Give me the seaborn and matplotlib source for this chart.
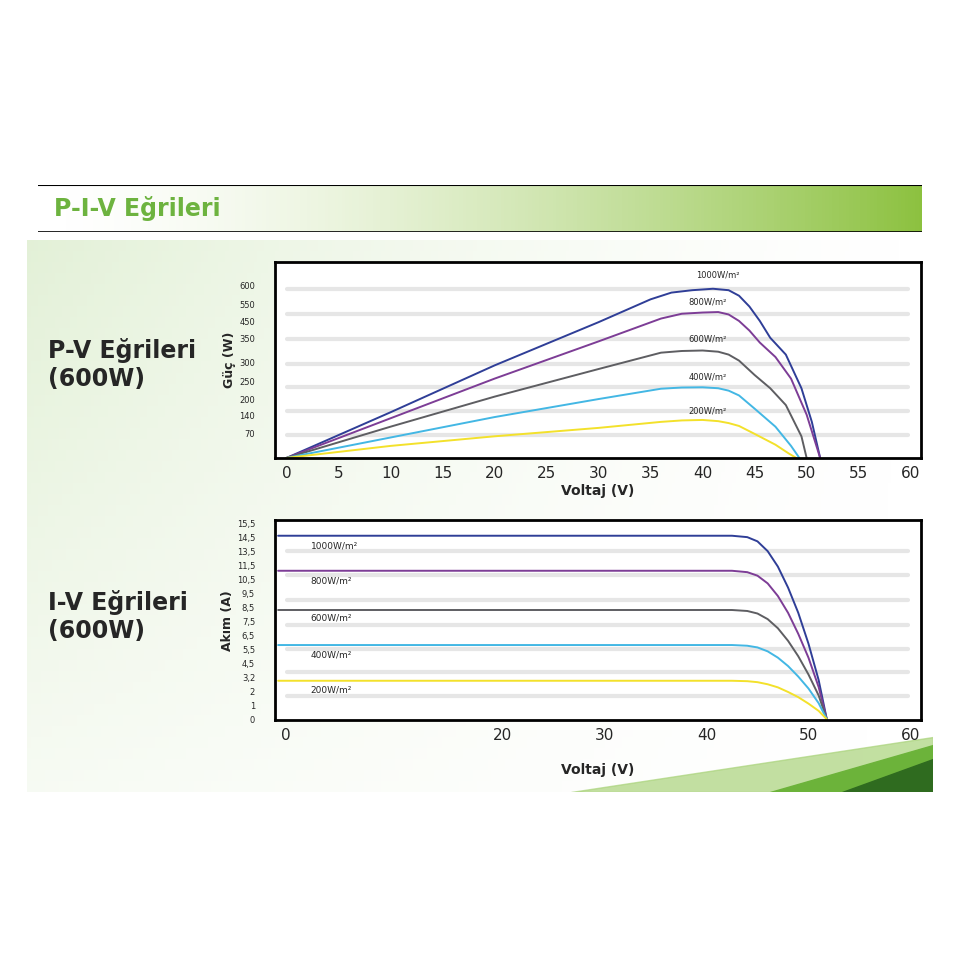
import numpy as np
import pandas as pd
import matplotlib.pyplot as plt
import seaborn as sns
from matplotlib.patches import Polygon

sns.set_style("white")
plt.rcParams["font.family"] = ["DejaVu Sans"]

irradiance = ["1000W/m²", "800W/m²", "600W/m²", "400W/m²", "200W/m²"]
colors = ["#2f3e97", "#7d3d96", "#5e5e62", "#43b7e4", "#f3e12b"]

# P-V curves: voltage (V), power in grid units (evenly spaced tick rows)
pv_v = {
    "1000W/m²": [0, 10, 20, 30, 35, 37, 39, 41, 42.5, 43.5, 44.5, 45.5, 46.5, 48, 49.5, 50.5, 51.3],
    "800W/m²": [0, 10, 20, 30, 36, 38, 40, 41.5, 42.5, 43.5, 44.5, 45.5, 47, 48.5, 50, 51.3],
    "600W/m²": [0, 10, 20, 30, 36, 38, 40, 41.5, 42.5, 43.5, 45, 46.5, 48, 49.5, 50],
    "400W/m²": [0, 10, 20, 30, 36, 38, 40, 41.5, 42.5, 43.5, 45, 47, 48.5, 49.3],
    "200W/m²": [0, 10, 20, 30, 36, 38, 40, 41.5, 42.5, 43.5, 45, 47, 48.3, 49],
}
pv_p = {
    "1000W/m²": [0, 1.9, 3.85, 5.65, 6.6, 6.88, 6.98, 7.04, 6.98, 6.75, 6.3, 5.7, 5.0, 4.3, 2.9, 1.5, 0],
    "800W/m²": [0, 1.65, 3.3, 4.85, 5.8, 6.0, 6.05, 6.07, 5.97, 5.7, 5.3, 4.8, 4.2, 3.3, 1.8, 0],
    "600W/m²": [0, 1.3, 2.55, 3.7, 4.38, 4.45, 4.47, 4.42, 4.3, 4.05, 3.45, 2.9, 2.2, 0.9, 0],
    "400W/m²": [0, 0.85, 1.7, 2.45, 2.88, 2.93, 2.94, 2.9, 2.8, 2.6, 2.05, 1.3, 0.5, 0],
    "200W/m²": [0, 0.5, 0.9, 1.25, 1.5, 1.56, 1.58, 1.53, 1.45, 1.33, 1.0, 0.55, 0.18, 0],
}
pv_ticks = ["70", "140", "200", "250", "300", "350", "450", "550", "600"]
pv_tick_pos = [1.0, 1.76, 2.43, 3.18, 3.96, 4.96, 5.68, 6.4, 7.18]
pv_grid = [0.97, 1.97, 2.96, 3.92, 4.96, 6.0, 7.04]

# I-V curves: voltage (V), current in grid units
iv_v = [-2.0, 42.5, 44, 45, 46, 47, 48, 49, 50, 51, 51.8]
iv_i = {
    "1000W/m²": [13.1, 13.1, 13.0, 12.7, 12.0, 10.9, 9.4, 7.6, 5.4, 2.8, 0],
    "800W/m²": [10.6, 10.6, 10.5, 10.25, 9.7, 8.8, 7.6, 6.1, 4.4, 2.3, 0],
    "600W/m²": [7.8, 7.8, 7.73, 7.55, 7.15, 6.5, 5.6, 4.5, 3.2, 1.7, 0],
    "400W/m²": [5.3, 5.3, 5.25, 5.13, 4.85, 4.4, 3.8, 3.05, 2.2, 1.15, 0],
    "200W/m²": [2.75, 2.75, 2.72, 2.65, 2.5, 2.28, 1.95, 1.58, 1.12, 0.6, 0],
}
iv_ticks = ["0", "1", "2", "3,2", "4,5", "5,5", "6,5", "7,5", "8,5", "9,5",
            "10,5", "11,5", "13,5", "14,5", "15,5"]
iv_grid = [1.67, 3.35, 5.0, 6.7, 8.5, 10.3, 12.0]
iv_xticks = ["0", "20", "30", "40", "50", "60"]
iv_xtick_pos = [-1.2, 20, 30, 40, 50, 60]

fig = plt.figure(figsize=(9.6, 9.6), dpi=100)
fig.patch.set_facecolor("white")

# background panel with soft green
bg = fig.add_axes([0.028, 0.175, 0.944, 0.575])
grad = np.linspace(0, 1, 256)
img = np.zeros((50, 256, 4))
img[..., 0] = 0.80
img[..., 1] = 0.90
img[..., 2] = 0.72
img[..., 3] = (0.55 * (1 - grad) ** 1.5)[None, :] * np.linspace(0.3, 1, 50)[:, None]
bg.imshow(img, aspect="auto", extent=[0, 1, 0, 1], origin="lower")
bg.add_patch(Polygon([[0.6, 0], [1, 0], [1, 0.1]], color="#a9d37a", alpha=0.7))
bg.add_patch(Polygon([[0.82, 0], [1, 0], [1, 0.085]], color="#6cb33a"))
bg.add_patch(Polygon([[0.9, 0], [1, 0], [1, 0.06]], color="#2f6b1f"))
bg.set_xlim(0, 1); bg.set_ylim(0, 1); bg.axis("off")

# title bar
tb = fig.add_axes([0.04, 0.758, 0.92, 0.049])
tg = np.zeros((2, 256, 4))
tg[..., 0] = 0.55; tg[..., 1] = 0.76; tg[..., 2] = 0.25
tg[..., 3] = grad ** 1.6
tb.imshow(tg, aspect="auto", extent=[0, 1, 0, 1])
tb.axhline(1, color="black", lw=1.5); tb.axhline(0, color="black", lw=1.2)
tb.set_xlim(0, 1); tb.set_ylim(0, 1); tb.axis("off")
tb.text(0.018, 0.5, "P-I-V Eğrileri", color="#6db33f", fontsize=17, fontweight="bold", va="center")

fig.text(0.05, 0.62, "P-V Eğrileri\n(600W)", fontsize=17, fontweight="bold", va="center", linespacing=1.2)
fig.text(0.05, 0.358, "I-V Eğrileri\n(600W)", fontsize=17, fontweight="bold", va="center", linespacing=1.2)

# P-V
ax1 = fig.add_axes([0.286, 0.523, 0.673, 0.204])
for y in pv_grid:
    ax1.axhline(y, xmin=0.02, xmax=0.98, color="#e6e6e6", lw=3, zorder=0)
pv_df = pd.concat([pd.DataFrame({"V": pv_v[k], "P": pv_p[k], "G": k}) for k in irradiance])
sns.lineplot(data=pv_df, x="V", y="P", hue="G", palette=colors, hue_order=irradiance,
             sort=False, estimator=None, lw=1.4, legend=False, ax=ax1)
for k, px, py in zip(irradiance, [41.5, 40.5, 40.5, 40.5, 40.5], [7.6, 6.5, 4.95, 3.35, 1.95]):
    ax1.text(px, py, k, fontsize=6, ha="center", va="center")
ax1.set_xlim(-1.15, 60.96); ax1.set_ylim(0, 8.15)
ax1.set_xticks(range(0, 61, 5))
ax1.set_yticks(pv_tick_pos, pv_ticks)
ax1.tick_params(axis="x", labelsize=11, length=0, pad=6)
ax1.tick_params(axis="y", labelsize=6, length=0, pad=14)
ax1.set_xlabel("Voltaj (V)", fontsize=10, fontweight="bold", labelpad=2)
ax1.set_ylabel("Güç (W)", fontsize=9, fontweight="bold", labelpad=2)
for s in ax1.spines.values():
    s.set_linewidth(2); s.set_color("black")

# I-V
ax2 = fig.add_axes([0.286, 0.25, 0.673, 0.208])
for y in iv_grid:
    ax2.axhline(y, xmin=0.02, xmax=0.98, color="#e6e6e6", lw=3, zorder=0)
iv_df = pd.concat([pd.DataFrame({"V": iv_v, "I": iv_i[k], "G": k}) for k in irradiance])
sns.lineplot(data=iv_df, x="V", y="I", hue="G", palette=colors, hue_order=irradiance,
             sort=False, estimator=None, lw=1.4, legend=False, ax=ax2)
for k, py in zip(irradiance, [12.4, 9.9, 7.2, 4.6, 2.1]):
    ax2.text(1.2, py, k, fontsize=6.5, ha="left", va="center")
ax2.set_xlim(-2.35, 61); ax2.set_ylim(-0.05, 14.2)
ax2.set_xticks(iv_xtick_pos, iv_xticks)
ax2.set_yticks(range(15), iv_ticks)
ax2.tick_params(axis="x", labelsize=11, length=0, pad=6)
ax2.tick_params(axis="y", labelsize=6, length=0, pad=14)
ax2.set_xlabel("Voltaj (V)", fontsize=10, fontweight="bold", labelpad=14)
ax2.set_ylabel("Akım (A)", fontsize=9, fontweight="bold", labelpad=2)
for s in ax2.spines.values():
    s.set_linewidth(2); s.set_color("black")

fig.savefig("out.png", dpi=100)
